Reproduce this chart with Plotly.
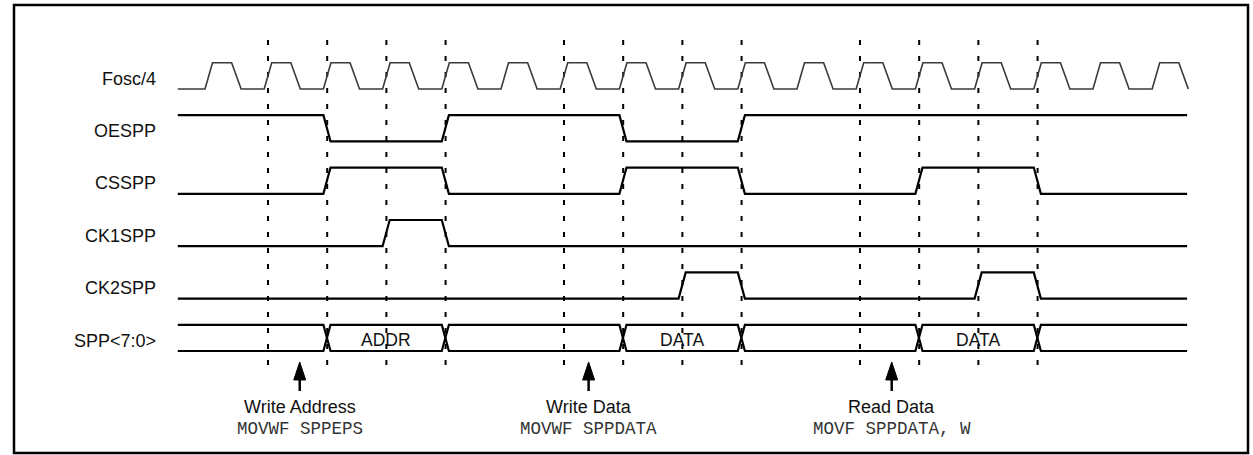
import plotly.graph_objects as go

# time axis is in Fosc/4 cycles, 0 = first rising edge drawn
ROWS = ["Fosc/4", "OESPP", "CSSPP", "CK1SPP", "CK2SPP", "SPP<7:0>"]

FOSC4_RISES = [0, 1, 2, 3, 4, 5, 6, 7, 8, 9, 10, 11, 12, 13, 14, 15, 16]

OESPP_START = 1
OESPP_EDGES = [2, 4, 7, 9]
CSSPP_START = 0
CSSPP_EDGES = [2, 4, 7, 9, 12, 14]
CK1SPP_START = 0
CK1SPP_EDGES = [3, 4]
CK2SPP_START = 0
CK2SPP_EDGES = [8, 9, 13, 14]

SPP_EDGES = [2, 4, 7, 9, 12, 14]
SPP_VALUES = ["", "ADDR", "", "DATA", "", "DATA", ""]

MARKER_CYCLES = [1, 2, 3, 4, 6, 7, 8, 9, 11, 12, 13, 14]

EVENT_CYCLES = [1.6, 6.48, 11.6]
EVENT_NAMES = ["Write Address", "Write Data", "Read Data"]
EVENT_CODE = ["MOVWF SPPEPS", "MOVWF SPPDATA", "MOVF SPPDATA, W"]

# drawing constants
T_START, T_END = -0.46, 16.59
SLEW = 0.12
HIGH = 0.5
CLK_RISE, CLK_HIGH, CLK_LOW = 0.127, 0.45, 0.61
MARK_OFFSET = 0.064
FONT = "Arial, Liberation Sans, sans-serif"
MONO = "Courier New, Liberation Mono, monospace"


def level_y(row, level):
    return row - HIGH * level


def waveform(start, edges, row):
    xs, ys = [T_START], [level_y(row, start)]
    level = start
    for e in edges:
        xs += [e, e + SLEW]
        ys += [level_y(row, level), level_y(row, 1 - level)]
        level = 1 - level
    xs.append(T_END)
    ys.append(level_y(row, level))
    return xs, ys


def clock(rises, row):
    xs, ys = [T_START], [level_y(row, 0)]
    for r in rises:
        xs += [r, r + CLK_RISE, r + CLK_HIGH, r + CLK_LOW]
        ys += [level_y(row, 0), level_y(row, 1), level_y(row, 1), level_y(row, 0)]
    return xs, ys


fig = go.Figure()

# dashed cycle markers
mx, my = [], []
for c in MARKER_CYCLES:
    mx += [c + MARK_OFFSET, c + MARK_OFFSET, None]
    my += [-0.935, 5.42, None]
fig.add_trace(go.Scatter(x=mx, y=my, mode="lines",
                         line=dict(color="black", width=2, dash="5px,11px")))

cx, cy = clock(FOSC4_RISES, 0)
fig.add_trace(go.Scatter(x=cx, y=cy, mode="lines", line=dict(color="#3a3a3a", width=1.6)))

for row, (start, edges) in enumerate(
    [(OESPP_START, OESPP_EDGES), (CSSPP_START, CSSPP_EDGES),
     (CK1SPP_START, CK1SPP_EDGES), (CK2SPP_START, CK2SPP_EDGES)], start=1):
    x, y = waveform(start, edges, row)
    fig.add_trace(go.Scatter(x=x, y=y, mode="lines", line=dict(color="black", width=2.2)))

# bus: two complementary paths give the crossings
for start in (1, 0):
    x, y = waveform(start, SPP_EDGES, 5)
    fig.add_trace(go.Scatter(x=x, y=y, mode="lines", line=dict(color="black", width=2.2)))

annotations = []
bounds = [T_START] + SPP_EDGES + [T_END]
for i, val in enumerate(SPP_VALUES):
    if val:
        mid = (bounds[i] + bounds[i + 1]) / 2 + SLEW / 2
        annotations.append(dict(x=mid, y=4.79, text=val, showarrow=False,
                                font=dict(family=FONT, size=17.5, color="#111")))

for i, name in enumerate(ROWS):
    annotations.append(dict(x=-0.794, y=i - 0.2, text=name, showarrow=False,
                            xanchor="right", font=dict(family=FONT, size=18, color="#111")))

for ev, name, code in zip(EVENT_CYCLES, EVENT_NAMES, EVENT_CODE):
    fig.add_trace(go.Scatter(x=[ev, ev], y=[5.50, 5.763], mode="lines",
                             line=dict(color="black", width=2.5)))
    fig.add_trace(go.Scatter(x=[ev - 0.101, ev, ev + 0.101, ev - 0.101],
                             y=[5.553, 5.21, 5.553, 5.553], mode="lines",
                             fill="toself", fillcolor="black",
                             line=dict(color="black", width=1)))
    annotations.append(dict(x=ev, y=6.069, text=name, showarrow=False,
                            font=dict(family=FONT, size=18, color="#111")))
    annotations.append(dict(x=ev, y=6.489, text=code, showarrow=False,
                            font=dict(family=MONO, size=17.5, color="#333")))

fig.update_layout(
    width=1253,
    height=455,
    margin=dict(l=0, r=0, t=0, b=0),
    paper_bgcolor="white",
    plot_bgcolor="white",
    showlegend=False,
    hovermode=False,
    annotations=annotations,
    shapes=[dict(type="rect", xref="paper", yref="paper",
                 x0=14 / 1253, x1=1248 / 1253, y0=1 - 453 / 455, y1=1 - 5 / 455,
                 line=dict(color="black", width=2.5))],
)
fig.update_xaxes(range=[-3.463, 17.703], visible=False, fixedrange=True)
fig.update_yaxes(range=[6.985, -1.698], visible=False, fixedrange=True)

fig.write_html("out.html", config={"displayModeBar": False},
               post_script="document.body.style.margin = '0';")
